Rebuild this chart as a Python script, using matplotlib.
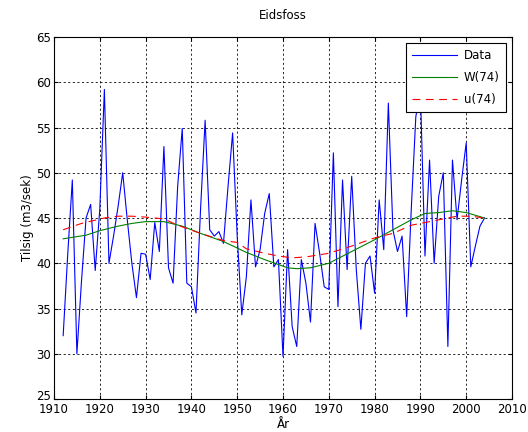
import numpy as np
import matplotlib
matplotlib.use("Agg")
import matplotlib.pyplot as plt
from matplotlib.transforms import ScaledTranslation


# Yearly inflow data
years = list(range(1912, 2005))
tilsig = [
    32.0, 41.0, 49.2, 30.0, 38.0, 45.0, 46.5, 39.2, 46.0, 59.2,
    40.0, 43.0, 46.3, 50.0, 44.8, 40.0, 36.2, 41.1, 41.0, 38.2,
    44.5, 41.3, 52.9, 39.5, 37.8, 48.5, 54.9, 37.8, 37.4, 34.5,
    46.0, 55.8, 43.7, 43.0, 43.5, 42.2, 48.5, 54.4, 43.0, 34.3,
    38.5, 47.0, 39.6, 41.5, 45.5, 47.7, 39.6, 40.4, 29.7, 41.5,
    33.0, 30.8, 40.4, 37.8, 33.5, 44.4, 41.1, 37.4, 37.1, 52.2,
    35.2, 49.2, 39.3, 49.6, 39.3, 32.7, 40.0, 40.8, 36.7, 47.0,
    41.5, 57.7, 43.7, 41.3, 43.0, 34.1, 45.9, 56.2, 59.0, 40.8,
    51.4, 40.0, 47.4, 50.0, 30.8, 51.4, 44.8, 49.2, 53.3, 39.6,
    41.9, 44.1, 45.0,
]

# Smoothed curves W(74) and u(74)
w_years = [1912, 1917, 1920, 1924, 1927, 1930, 1934, 1938, 1942, 1947, 1952,
           1956, 1961, 1963, 1966, 1970, 1975, 1980, 1984, 1988, 1991, 1994,
           1997, 2000, 2004]
w_vals = [42.7, 43.1, 43.6, 44.1, 44.4, 44.6, 44.6, 44.1, 43.3, 42.4, 41.2,
          40.4, 39.5, 39.4, 39.5, 40.0, 41.3, 42.6, 43.7, 44.8, 45.5, 45.6,
          45.8, 45.6, 45.0]

u_years = [1912, 1916, 1921, 1924, 1927, 1930, 1934, 1937, 1942, 1947, 1950,
           1952, 1956, 1959, 1962, 1965, 1970, 1975, 1980, 1984, 1988, 1991,
           1994, 1998, 2001, 2004]
u_vals = [43.7, 44.4, 45.0, 45.2, 45.2, 45.1, 44.9, 44.2, 43.3, 42.5, 42.3,
          41.6, 41.1, 40.8, 40.6, 40.7, 41.1, 41.9, 42.8, 43.3, 44.2, 44.5,
          44.8, 45.2, 45.2, 45.0]

x_ticks = list(range(1910, 2011, 10))
y_ticks = list(range(25, 66, 5))

plt.rcParams["font.family"] = "DejaVu Sans"
plt.rcParams["font.size"] = 8

fig = plt.figure(figsize=(5.28, 4.32), dpi=100)
ax = fig.add_axes([54 / 528, 1 - 399 / 432, (512 - 54) / 528, (399 - 37) / 432])

ax.plot(years, tilsig, color="#0000ff", linewidth=0.8, label="Data")
ax.plot(w_years, w_vals, color="#008000", linewidth=0.8, label="W(74)")
u_line, = ax.plot(u_years, u_vals, color="#ff0000", linewidth=0.8, label="u(74)")
u_line.set_dashes([7, 5])

ax.set_xlim(1910, 2010)
ax.set_ylim(25, 65)
ax.set_xticks(x_ticks)
ax.set_yticks(y_ticks)
ax.tick_params(direction="in", top=True, right=True, length=3, labelsize=8.5)
ax.tick_params(axis="x", pad=3)
ax.tick_params(axis="y", pad=2)
ax.grid(True, color="black", linestyle=(0, (2.5, 3)), linewidth=0.6)

# the lowest y label sits a bit above the corner, as in the original
fig.canvas.draw()
ax.get_yticklabels()[0].set_transform(
    ax.get_yticklabels()[0].get_transform()
    + ScaledTranslation(0, 3 / 72, fig.dpi_scale_trans))

for spine in ax.spines.values():
    spine.set_linewidth(0.8)

ax.set_title("Eidsfoss", fontsize=8.5, pad=13)
ax.set_xlabel("År", fontsize=8.5, labelpad=1)
ax.set_ylabel("Tilsig (m3/sek)", fontsize=8.5, labelpad=2)

leg = ax.legend(loc="upper right", fancybox=False, framealpha=1,
                edgecolor="black", handlelength=3.8, borderaxespad=0.55,
                labelspacing=0.75, fontsize=8.5, borderpad=0.5,
                handletextpad=0.6)
leg.get_frame().set_linewidth(0.8)

fig.savefig("out.png", dpi=100)
